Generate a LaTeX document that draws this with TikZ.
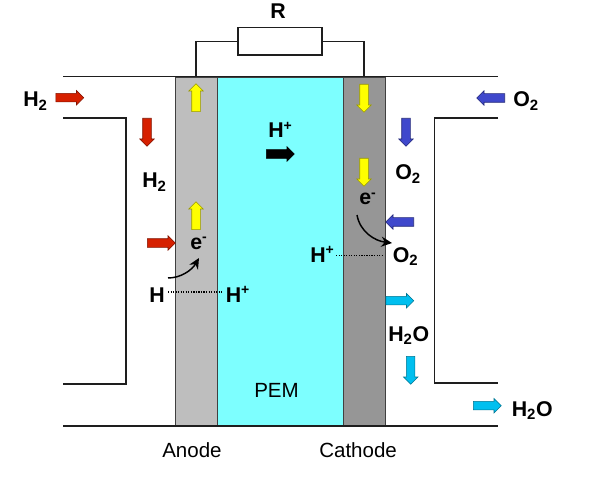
\documentclass[tikz,border=0pt]{standalone}
\usepackage{fontspec}
\setmainfont{Liberation Sans}
\usetikzlibrary{shapes.arrows,arrows.meta,calc}
\definecolor{pemcol}{HTML}{7DFFFF}
\definecolor{anodecol}{HTML}{BEBEBE}
\definecolor{cathodecol}{HTML}{969696}
\definecolor{linecol}{HTML}{1E1E1E}
\definecolor{redarr}{HTML}{D62000}
\definecolor{bluearr}{HTML}{3F48CC}
\definecolor{cyanarr}{HTML}{00BFEF}
\definecolor{yelarr}{HTML}{FFFF00}
\newcommand{\upmark}[1]{\raisebox{0.36em}{\fontsize{10.5}{10.5}\selectfont #1}}
\tikzset{
  wall/.style={draw=linecol,line width=1.2pt},
  layer/.style={draw=linecol!85,line width=0.9pt,anchor=north west,inner sep=0pt,minimum height=262pt},
  flow/.style={single arrow,anchor=tail,draw=#1!60!black,fill=#1,line width=0.4pt,inner xsep=0pt,inner ysep=3pt,minimum width=10.5pt,
    minimum height=21pt,single arrow head extend=2.25pt,single arrow tip angle=90},
  lab/.style={anchor=base west,inner sep=0pt,font=\fontsize{16}{18}\selectfont\bfseries},
  plain/.style={anchor=base west,inner sep=0pt,font=\fontsize{15.4}{18}\selectfont},
  react/.style={line width=1.1pt,-{Stealth[length=8pt,width=7.5pt]},black},
  bond/.style={line width=0.9pt,densely dotted,black}
}
\begin{document}
\begin{tikzpicture}[x=0.75pt,y=-0.75pt]
\useasboundingbox (0,0) rectangle (598,484);
% layers
\node[layer,fill=anodecol,minimum width=31.5pt] (anode) at (175,76.5) {};
\node[layer,fill=pemcol,minimum width=94.5pt] (pem) at (217,76.5) {};
\node[layer,fill=cathodecol,minimum width=31.5pt] (cathode) at (343,76.5) {};
% walls
\coordinate (tl) at (63,76.5); \coordinate (tr) at (498,76.5);
\coordinate (bl) at (63,426); \coordinate (br) at (498,426);
\draw[wall] (tl) -- (tr);
\draw[wall] (bl) -- (br);
\coordinate (la) at (63,118); \coordinate (lb) at (126,118); \coordinate (lc) at (126,384); \coordinate (ld) at (63,384);
\draw[wall] (la) -- (lb) -- (lc) -- (ld);
\coordinate (ra) at (498,118); \coordinate (rb) at (434.5,118); \coordinate (rc) at (434.5,383); \coordinate (rd) at (498,383);
\draw[wall] (ra) -- (rb) -- (rc) -- (rd);
% resistor
\node[draw=linecol,line width=1pt,minimum width=63pt,minimum height=20.5pt,inner sep=0pt] (res) at (280,41.3) {};
\coordinate (ctA) at (196,76.5); \coordinate (ctC) at (364,76.5);
\draw[wall,line width=1pt] (ctA) |- (res.west);
\draw[wall,line width=1pt] (ctC) |- (res.east);
% arrows
\node[flow=redarr] (a1) at (55.5,97.7) {};
\node[flow=redarr,rotate=-90] (a2) at (147,118) {};
\node[flow=redarr] (a3) at (147,243) {};
\node[flow=yelarr,rotate=90] (y1) at (196,112) {};
\node[flow=yelarr,rotate=90] (y2) at (196,230) {};
\node[flow=yelarr,rotate=-90] (y3) at (364,84) {};
\node[flow=yelarr,rotate=-90] (y4) at (364,158) {};
\node[flow=black] (k1) at (266,154) {};
\node[flow=bluearr,rotate=180] (b1) at (505,98) {};
\node[flow=bluearr,rotate=-90] (b2) at (406,118) {};
\node[flow=bluearr,rotate=180] (b3) at (414,222) {};
\node[flow=cyanarr] (c1) at (385.5,300.7) {};
\node[flow=cyanarr,rotate=-90] (c2) at (410.7,356) {};
\node[flow=cyanarr] (c3) at (473,405.7) {};
% labels
\node[lab] (R) at (270,19) {R};
\node[lab] (h2a) at (23,107) {H\textsubscript{2}};
\node[lab] (h2b) at (142,188) {H\textsubscript{2}};
\node[lab] (o2a) at (513,107) {O\textsubscript{2}};
\node[lab] (o2b) at (395,180) {O\textsubscript{2}};
\node[lab] (hpt) at (268,138) {H\upmark{+}};
\node[lab] (el) at (190,249) {e\upmark{-}};
\node[lab] (er) at (359,205) {e\upmark{-}};
\node[lab] (hat) at (149,302) {H};
\node[lab] (hpl) at (225.5,302) {H\upmark{+}};
\node[lab] (hpr) at (310,262) {H\upmark{+}};
\node[lab] (o2c) at (392.5,262) {O\textsubscript{2}};
\node[lab] (w1) at (388,341) {H\textsubscript{2}O};
\node[lab] (w2) at (511.5,416) {H\textsubscript{2}O};
\node[plain] (pemt) at (254,397) {PEM};
\node[plain] (ant) at (162,457) {Anode};
\node[plain] (cat) at (319,457) {Cathode};
% reactions
\coordinate (d1) at (168,292); \coordinate (d2) at (222,292);
\coordinate (d3) at (336,255.7); \coordinate (d4) at (384,255.7);
\draw[bond] (d1) -- (d2);
\draw[bond] (d3) -- (d4);
\coordinate (s1) at (168,278); \coordinate (e1) at (199,258);
\coordinate (s2) at (357,215); \coordinate (e2) at (392,243);
\draw[react] (s1) .. controls (181,278) and (192,270) .. (e1);
\draw[react] (s2) .. controls (360,232) and (375,241) .. (e2);
\end{tikzpicture}
\end{document}
